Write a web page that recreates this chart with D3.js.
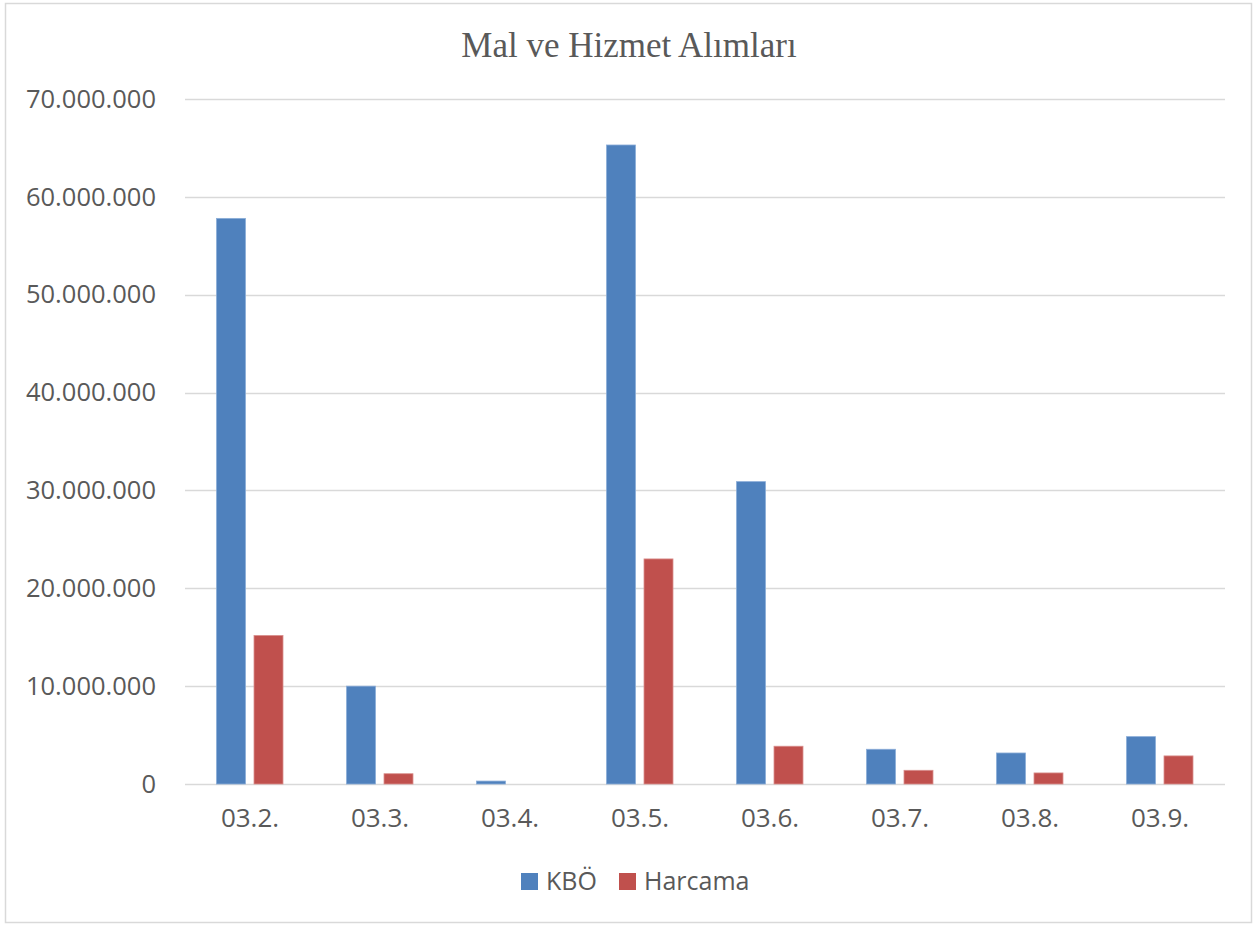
<!DOCTYPE html>
<html>
<head>
<meta charset="utf-8">
<script src="https://cdn.jsdelivr.net/npm/d3@7"></script>
<style>
  body { margin: 0; background: #fff; }
  svg text { fill: #595959; }
</style>
</head>
<body>
<div id="chart"></div>
<script>
const categories = ['03.2.', '03.3.', '03.4.', '03.5.', '03.6.', '03.7.', '03.8.', '03.9.'];
const seriesNames = ['KBÖ', 'Harcama'];
const kbo = [57800000, 10000000, 300000, 65300000, 30900000, 3550000, 3170000, 4840000];
const harcama = [15180000, 1050000, 0, 23000000, 3860000, 1400000, 1130000, 2870000];
const yTicks = [0, 10000000, 20000000, 30000000, 40000000, 50000000, 60000000, 70000000];

const colors = { 'KBÖ': '#4F81BD', 'Harcama': '#C0504D' };
const strokes = { 'KBÖ': '#8BADD8', 'Harcama': '#D98F8D' };

const W = 1254, H = 925;
const margin = { left: 185, right: 29, top: 99, bottom: 141 };

const svg = d3.select('#chart').append('svg')
  .attr('width', W)
  .attr('height', H);

// chart border
svg.append('rect')
  .attr('x', 5.5).attr('y', 3.5)
  .attr('width', W - 8).attr('height', H - 6)
  .attr('fill', '#fff')
  .attr('stroke', '#D9D9D9')
  .attr('stroke-width', 1.5);

const x0 = d3.scaleBand()
  .domain(categories)
  .range([margin.left, W - margin.right]);

const x1 = d3.scaleBand()
  .domain(seriesNames)
  .range([31.5, 98])
  .paddingInner(0.227);

const y = d3.scaleLinear()
  .domain([0, 70000000])
  .range([H - margin.bottom, margin.top]);

const fmt = v => d3.format(',')(v).replace(/,/g, '.');

// gridlines
svg.append('g')
  .selectAll('line')
  .data(yTicks)
  .join('line')
    .attr('x1', margin.left)
    .attr('x2', W - margin.right)
    .attr('y1', d => Math.round(y(d)) + 0.5)
    .attr('y2', d => Math.round(y(d)) + 0.5)
    .attr('stroke', '#D9D9D9')
    .attr('stroke-width', 1.5);

// y axis labels
const yAxis = svg.append('g')
  .attr('transform', `translate(${margin.left}, 0)`)
  .call(d3.axisLeft(y).tickValues(yTicks).tickFormat(fmt).tickSize(0).tickPadding(29));
yAxis.select('.domain').remove();
yAxis.selectAll('text')
  .attr('font-family', '"Open Sans", sans-serif')
  .attr('font-size', '25.5px')
  .attr('fill', '#595959');

// x axis labels
const xAxis = svg.append('g')
  .attr('transform', `translate(0, ${y(0)})`)
  .call(d3.axisBottom(x0).tickSize(0).tickPadding(25));
xAxis.select('.domain').remove();
xAxis.selectAll('text')
  .attr('font-family', '"Open Sans", sans-serif')
  .attr('font-size', '26px')
  .attr('fill', '#595959');

// bars
const rows = categories.map((c, i) => ({ cat: c, values: [
  { key: 'KBÖ', value: kbo[i] },
  { key: 'Harcama', value: harcama[i] }
]}));

svg.append('g')
  .selectAll('g')
  .data(rows)
  .join('g')
    .attr('transform', d => `translate(${x0(d.cat)}, 0)`)
  .selectAll('rect')
  .data(d => d.values.filter(v => v.value > 0))
  .join('rect')
    .attr('x', d => x1(d.key))
    .attr('y', d => y(d.value))
    .attr('width', x1.bandwidth())
    .attr('height', d => y(0) - y(d.value))
    .attr('fill', d => colors[d.key])
    .attr('stroke', d => strokes[d.key])
    .attr('stroke-width', 0.8);

// title
svg.append('text')
  .attr('x', 629)
  .attr('y', 57)
  .attr('text-anchor', 'middle')
  .attr('font-family', '"Liberation Serif", "Times New Roman", serif')
  .attr('font-size', '35px')
  .attr('fill', '#595959')
  .text('Mal ve Hizmet Alımları');

// legend
const legend = svg.append('g')
  .attr('transform', 'translate(521, 873)');
const legendX = [0, 98];
const li = legend.selectAll('g')
  .data(seriesNames)
  .join('g')
    .attr('transform', (d, i) => `translate(${legendX[i]}, 0)`);
li.append('rect')
  .attr('width', 17).attr('height', 17)
  .attr('fill', d => colors[d]);
li.append('text')
  .attr('x', 25)
  .attr('y', 17)
  .attr('font-family', '"Open Sans", sans-serif')
  .attr('font-size', '25px')
  .attr('fill', '#595959')
  .text(d => d);
</script>
</body>
</html>
